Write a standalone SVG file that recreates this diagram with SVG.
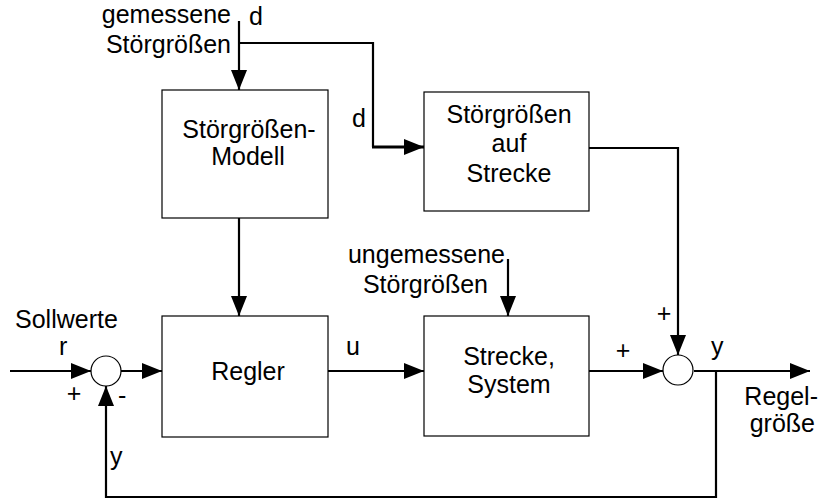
<svg xmlns="http://www.w3.org/2000/svg" width="818" height="501" viewBox="0 0 818 501">
<style>
text{font-family:"Liberation Sans",Arial,sans-serif;font-size:25px;fill:#000}
.box{fill:#fff;stroke:#000;stroke-width:1.2}
.sum{fill:#fff;stroke:#000;stroke-width:1.2}
.ln{fill:none;stroke:#000;stroke-width:2.2}
.thick{fill:none;stroke:#000;stroke-width:3.2}
.m{text-anchor:middle}
.e{text-anchor:end}
</style>
<defs>
<marker id="ah" viewBox="0 0 20 16" refX="20" refY="8" markerWidth="20" markerHeight="16" markerUnits="userSpaceOnUse" orient="auto">
<path d="M0,0 L20,8 L0,16 z" fill="#000"/>
</marker>
</defs>
<g id="connectors">
<path class="ln" d="M10,371 H91" marker-end="url(#ah)"/>
<path class="ln" d="M121,371 H162" marker-end="url(#ah)"/>
<path class="ln" d="M328,371 H424" marker-end="url(#ah)"/>
<path class="ln" d="M589,371 H663" marker-end="url(#ah)"/>
<path class="ln" d="M694,371 H810" marker-end="url(#ah)"/>
<path class="ln" d="M716,371 V497 H106 V386" marker-end="url(#ah)"/>
<path class="ln" d="M589,148 H678 V355" marker-end="url(#ah)"/>
<path class="ln" d="M239,21 V90" marker-end="url(#ah)"/>
<path class="ln" d="M239,43 H373 V147"/>
<path class="thick" d="M372,147 H424" marker-end="url(#ah)"/>
<path class="ln" d="M239,218 V316" marker-end="url(#ah)"/>
<path class="ln" d="M508,259 V316" marker-end="url(#ah)"/>
</g>
<g id="stoermodell">
<rect class="box" x="162" y="90" width="166" height="128"/>
<text class="m" x="249" y="138">Störgrößen-</text>
<text class="m" x="248" y="165">Modell</text>
</g>
<g id="stoerstrecke">
<rect class="box" x="424" y="92" width="165" height="119"/>
<text class="m" x="509" y="123">Störgrößen</text>
<text class="m" x="509" y="152">auf</text>
<text class="m" x="509" y="182">Strecke</text>
</g>
<g id="regler">
<rect class="box" x="162" y="316" width="166" height="121"/>
<text class="m" x="248" y="380">Regler</text>
</g>
<g id="strecke">
<rect class="box" x="424" y="316" width="165" height="120"/>
<text class="m" x="509" y="365">Strecke,</text>
<text class="m" x="509" y="393">System</text>
</g>
<g id="sum1"><circle class="sum" cx="106" cy="371" r="15"/></g>
<g id="sum2"><circle class="sum" cx="678" cy="370" r="15"/></g>
<g id="labels">
<text class="e" x="231" y="23">gemessene</text>
<text class="e" x="231" y="53">Störgrößen</text>
<text x="249" y="25">d</text>
<text x="352" y="127">d</text>
<text x="15" y="328">Sollwerte</text>
<text x="59" y="355">r</text>
<text class="m" x="74" y="402">+</text>
<text x="118" y="404">-</text>
<text x="110" y="465">y</text>
<text x="346" y="355">u</text>
<text class="e" x="505" y="263">ungemessene</text>
<text class="e" x="488" y="293">Störgrößen</text>
<text class="m" x="623" y="359">+</text>
<text class="m" x="664" y="322">+</text>
<text x="711" y="355">y</text>
<text class="e" x="818" y="405">Regel-</text>
<text class="e" x="815" y="432">größe</text>
</g>
</svg>
